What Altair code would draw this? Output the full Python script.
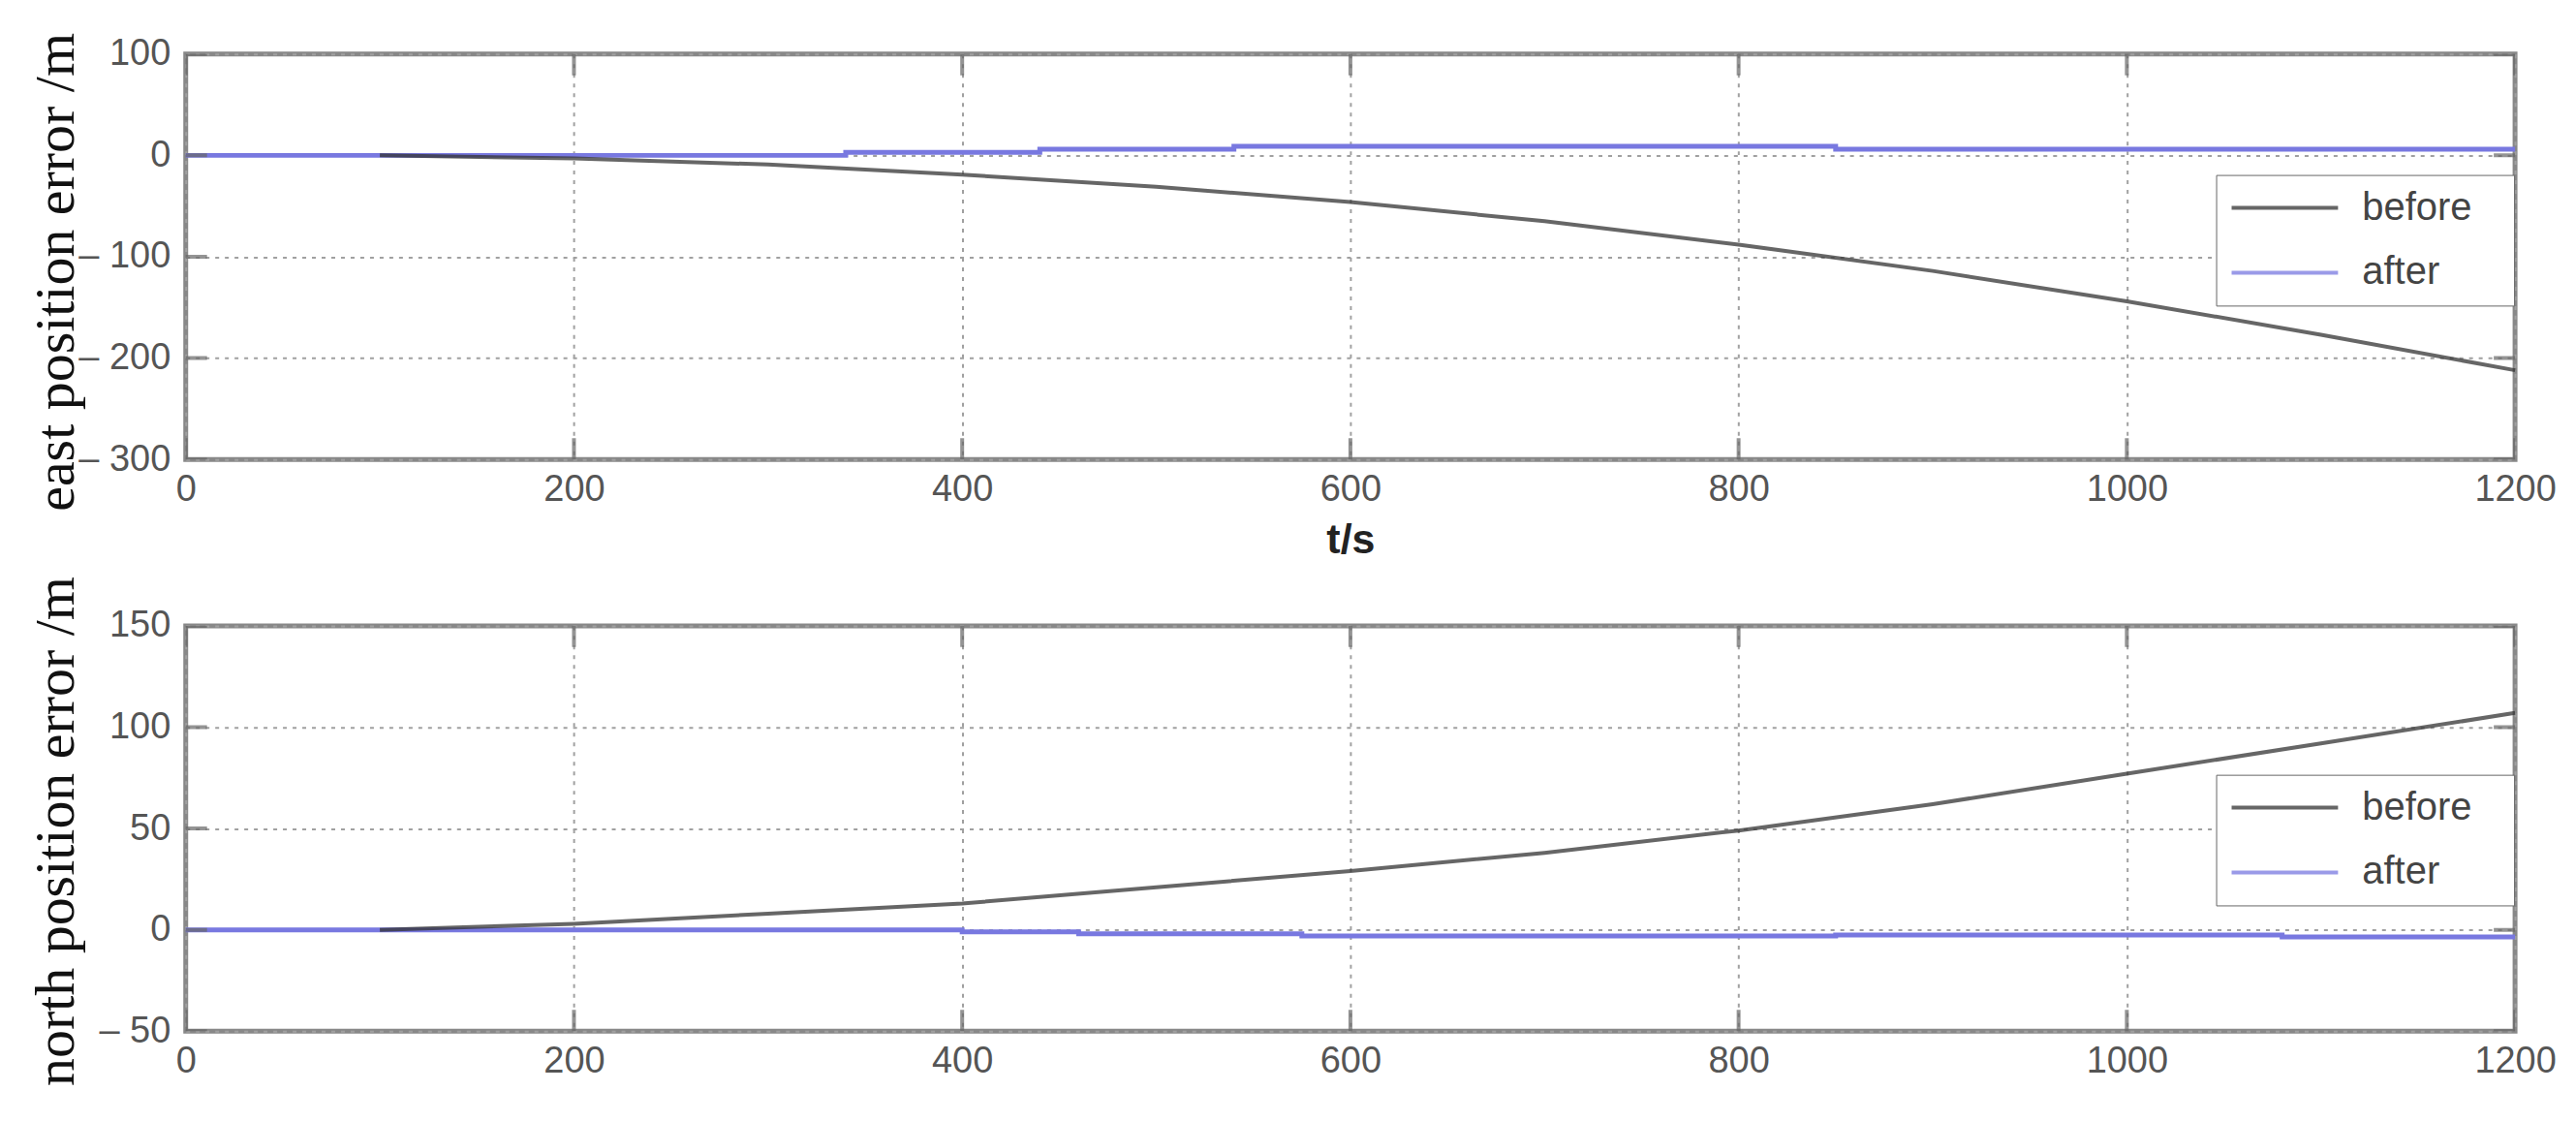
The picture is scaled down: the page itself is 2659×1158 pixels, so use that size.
import altair as alt
import pandas as pd

# ---- data ----
t_before = [100, 200, 300, 400, 500, 600, 700, 800, 900, 1000, 1100, 1200]
east_before = [0, -3, -9, -19, -31, -46, -65, -88, -114, -144, -177, -212]
north_before = [0, 3, 8, 13, 21, 29, 38, 49, 62, 77, 92, 107]

t_east_after = [0, 340, 440, 540, 850, 1200]
east_after = [0, 3, 6, 9, 6, 6]
t_north_after = [0, 400, 460, 575, 850, 1080, 1200]
north_after = [0, -1, -2, -3, -2.5, -3.5, -3.5]

x_ticks = [0, 200, 400, 600, 800, 1000, 1200]
east_ticks = [-300, -200, -100, 0, 100]
north_ticks = [-50, 0, 50, 100, 150]

series = ["before", "after"]
series_colors = ["#333333", "#7878e0"]

NARROW = "Liberation Sans Narrow, Arial Narrow, Liberation Sans"
LABEL_EXPR = "datum.value < 0 ? '\u2013 ' + format(-datum.value, 'd') : format(datum.value, 'd')"


def panel(t_b, v_b, t_a, v_a, yticks, ytitle, ytitle_y, show_xtitle, legend_y):
    df_b = pd.DataFrame({"t": t_b, "v": v_b, "s": "before"})
    df_a = pd.DataFrame({"t": t_a, "v": v_a, "s": "after"})
    ydom = [min(yticks), max(yticks)]

    xaxis_kw = dict(
        values=x_ticks, grid=True, domain=False, ticks=False,
        labelFont=NARROW, labelFontSize=38, labelColor="#555555",
        labelPadding=12, labelFlush=False, labelOverlap=False,
        gridColor="#a0a0a0", gridDash=[4, 6], gridWidth=2, gridOpacity=1,
        format="d",
    )
    if show_xtitle:
        xaxis = alt.Axis(title="t/s", titleFont="Liberation Sans", titleFontWeight="bold",
                         titleFontSize=43, titleColor="#222222", titleBaseline="alphabetic",
                         titleY=97, **xaxis_kw)
    else:
        xaxis = alt.Axis(title=None, **xaxis_kw)

    yaxis = alt.Axis(
        values=yticks, grid=True, domain=False, ticks=False, title=ytitle,
        labelFont=NARROW, labelFontSize=38, labelColor="#555555",
        labelPadding=16, labelFlush=False, labelOverlap=False, labelExpr=LABEL_EXPR,
        gridColor="#a0a0a0", gridDash=[4, 6], gridWidth=2, gridOpacity=1,
        titleFont="Liberation Serif", titleFontSize=58, titleFontWeight="normal",
        titleColor="#111111", titleAngle=-90, titleX=-116, titleY=ytitle_y,
        titleAlign="center", titleBaseline="alphabetic",
    )

    X = alt.X("t:Q", scale=alt.Scale(domain=[0, 1200], nice=False, zero=False), axis=xaxis)
    Y = alt.Y("v:Q", scale=alt.Scale(domain=ydom, nice=False, zero=False), axis=yaxis)

    legend = alt.Legend(
        title=None, orient="none", legendX=2099, legendY=legend_y,
        symbolType="stroke", symbolSize=12100, symbolStrokeWidth=4,
        clipHeight=40, rowPadding=27, padding=14,
        labelFont="Liberation Sans", labelFontSize=40, labelColor="#444444",
        labelOffset=23, fillColor="white", strokeColor="#666666",
        labelExpr="datum.label + '\u2800'",
    )
    C = alt.Color("s:N", scale=alt.Scale(domain=series, range=series_colors), legend=legend)

    after = alt.Chart(df_a).mark_line(strokeWidth=5, interpolate="step-after").encode(x=X, y=Y, color=C)
    before = alt.Chart(df_b).mark_line(strokeWidth=4, opacity=0.75).encode(x=X, y=Y, color=C)

    df_xt = pd.DataFrame({"t": x_ticks * 2, "v": [ydom[0]] * len(x_ticks) + [ydom[1]] * len(x_ticks)})
    df_yt = pd.DataFrame({"t": [0] * len(yticks) + [1200] * len(yticks), "v": yticks * 2})
    xt = alt.Chart(df_xt).mark_tick(orient="vertical", size=44, thickness=4, color="#666666",
                                    clip=True).encode(x=X, y=Y)
    yt = alt.Chart(df_yt).mark_tick(orient="horizontal", size=44, thickness=4, color="#666666",
                                    clip=True).encode(x=X, y=Y)

    return alt.layer(after, before, xt, yt).properties(width=2408, height=419)


top = panel(t_before, east_before, t_east_after, east_after, east_ticks,
            "east position error /m", 225, True, 125)
bottom = panel(t_before, north_before, t_north_after, north_after, north_ticks,
               "north position error /m", 212, False, 154)

chart = alt.vconcat(top, bottom, spacing=172, bounds="flush").resolve_scale(
    color="independent").resolve_legend(color="independent").configure_view(
    stroke="#888888", strokeWidth=5).properties(
    padding={"left": 19, "top": 22, "right": 10, "bottom": 10}, background="white")

chart.save("out.html", embed_options={"renderer": "svg", "actions": False})
